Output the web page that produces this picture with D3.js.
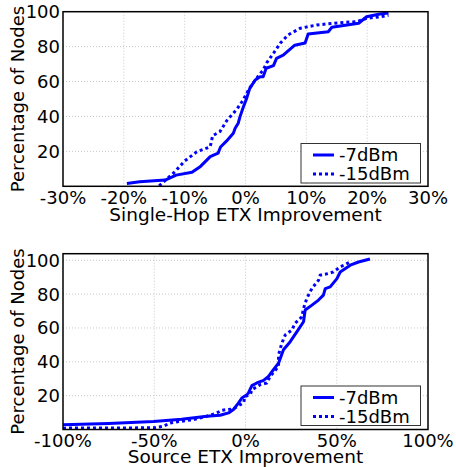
<!DOCTYPE html>
<html><head><meta charset="utf-8">
<script src="https://cdn.jsdelivr.net/npm/d3@7"></script>
<style>body{margin:0;background:#fff}svg{display:block}</style>
</head><body>
<svg id="c" width="456" height="467"></svg>
<script>
// ---- data ----
const seriesNames = ["-7dBm", "-15dBm"];
const yTicks = [20, 40, 60, 80, 100];
const topXTicks = [-30, -20, -10, 0, 10, 20, 30];
const botXTicks = [-100, -50, 0, 50, 100];
const topXLabel = "Single-Hop ETX Improvement";
const botXLabel = "Source ETX Improvement";
const yLabel = "Percentage of Nodes";

// Top panel: [improvement %, percentage of nodes]
const top7 = [[-19.5,1.6],[-17.4,2.6],[-13.2,3.6],[-11.4,6.4],[-8.8,8.0],[-7.4,11.4],[-5.8,17.0],[-4.5,19.0],[-4.1,22.5],[-3.1,26.0],[-2.0,30.4],[-1.7,33.2],[-1.2,36.1],[-0.9,39.9],[-0.4,45.0],[0.2,50.5],[0.7,56.1],[1.6,60.9],[2.4,62.8],[2.9,62.8],[3.4,67.6],[4.6,69.1],[5.1,73.3],[6.2,75.1],[8.1,80.8],[9.8,82.1],[10.3,87.2],[13.6,88.5],[14.2,91.1],[18.6,93.4],[19.9,97.1],[22.1,98.7],[23.5,99.3]];
const top15 = [[-14.2,0.3],[-11.6,8.4],[-10.0,14.5],[-8.0,19.8],[-6.7,21.4],[-5.8,22.7],[-5.4,29.0],[-4.2,31.3],[-3.1,37.5],[-2.5,39.9],[-1.4,44.2],[-0.4,49.4],[0.5,55.2],[1.6,60.9],[2.9,66.6],[3.5,70.8],[4.6,76.2],[5.7,81.9],[7.0,86.7],[9.0,90.5],[11.7,92.4],[15.5,93.7],[18.3,94.3],[19.9,96.2],[22.1,97.1],[23.5,97.9]];
// Bottom panel
const bot7 = [[-100,2.8],[-75,3.6],[-50.4,4.7],[-35,6.0],[-21.2,7.8],[-13.9,8.4],[-9.3,9.8],[-6.6,11.8],[-3.8,15.7],[-2.0,18.6],[0.8,20.6],[1.6,21.6],[3.5,25.9],[6.2,27.5],[9.9,29.0],[12.6,31.4],[15.3,35.3],[18.1,39.2],[20.8,47.1],[24.5,51.9],[28.2,57.8],[31.8,63.7],[32.7,70.6],[36.4,73.5],[40.0,76.5],[42.7,79.4],[43.7,83.3],[46.4,84.3],[50.1,89.2],[51.9,93.1],[57.4,97.1],[61.9,99.0],[68.2,100.8]];
const bot15 = [[-100,0.8],[-50.4,1.0],[-44.9,2.0],[-41.3,3.9],[-28.5,5.9],[-21.2,7.8],[-15.7,9.8],[-12.9,11.4],[-6.6,12.2],[-2.9,14.7],[-1.1,15.7],[-0.2,19.6],[2.6,20.6],[3.5,23.5],[8.1,26.5],[11.7,27.5],[13.5,31.4],[18.1,37.3],[18.1,44.1],[19.9,51.0],[21.8,55.9],[25.4,58.8],[27.2,62.8],[30.9,66.6],[31.8,71.6],[33.6,77.5],[36.4,83.4],[40.0,88.2],[40.9,91.2],[45.5,92.2],[48.2,93.1],[51.9,96.1],[57.4,99.0]];

// ---- drawing ----
const svg = d3.select("#c");
const font = "DejaVu Sans, sans-serif";
const blue = "#0000ff";

function panel(cfg) {
  const x = d3.scaleLinear().domain(cfg.xDomain).range([63, 428]);
  const y = d3.scaleLinear().domain(cfg.yDomain).range(cfg.yRange);
  const y0 = y.range()[0];
  const g = svg.append("g");
  const topPx = y(cfg.yTop);
  // grid
  g.selectAll(".vg").data(cfg.xTicks.slice(1, -1)).join("line")
    .attr("x1", d => x(d)).attr("x2", d => x(d)).attr("y1", topPx).attr("y2", y0)
    .attr("stroke", "#c8c8c8").attr("stroke-width", 1).attr("stroke-dasharray", "1,2");
  g.selectAll(".hg").data(yTicks.filter(d => y(d) > topPx + 1)).join("line")
    .attr("x1", 63).attr("x2", 428).attr("y1", d => y(d)).attr("y2", d => y(d))
    .attr("stroke", "#c8c8c8").attr("stroke-width", 1).attr("stroke-dasharray", "1,2");
  // lines
  const line = d3.line().x(d => x(d[0])).y(d => y(d[1]));
  g.append("path").datum(cfg.s7).attr("d", line).attr("fill", "none")
    .attr("stroke", blue).attr("stroke-width", 3).attr("stroke-linejoin", "round");
  g.append("path").datum(cfg.s15).attr("d", line).attr("fill", "none")
    .attr("stroke", blue).attr("stroke-width", 3).attr("stroke-dasharray", "3,3");
  // frame
  g.append("rect").attr("x", 63).attr("y", topPx).attr("width", 365).attr("height", y0 - topPx)
    .attr("fill", "none").attr("stroke", "#000").attr("stroke-width", 1.5);
  // y ticks labels
  g.selectAll(".yt").data(yTicks).join("text")
    .attr("x", 60).attr("y", d => y(d)).attr("dy", "0.36em")
    .attr("text-anchor", "end").attr("font-family", font).attr("font-size", 18)
    .text(d => d);
  // x tick labels
  g.selectAll(".xt").data(cfg.xTicks).join("text")
    .attr("x", d => x(d)).attr("y", cfg.xTickY)
    .attr("text-anchor", "middle").attr("font-family", font).attr("font-size", 18)
    .text(d => (d < 0 ? "-" + Math.abs(d) : d) + "%");
  // x label
  g.append("text").attr("x", 245.5).attr("y", cfg.xLabelY).attr("text-anchor", "middle")
    .attr("font-family", font).attr("font-size", 18.5).text(cfg.xLabel);
  // y label
  const cy = (topPx + y0) / 2;
  g.append("text").attr("transform", `translate(24,${cy}) rotate(-90)`)
    .attr("text-anchor", "middle").attr("font-family", font).attr("font-size", 18).text(yLabel);
  // legend
  const lg = g.append("g");
  lg.append("rect").attr("x", 301).attr("y", cfg.legY).attr("width", 119.5).attr("height", 39.5)
    .attr("fill", "#fff").attr("stroke", "#333").attr("stroke-width", 1);
  seriesNames.forEach((n, i) => {
    const ry = cfg.legY + 11.5 + i * 19;
    lg.append("line").attr("x1", 313).attr("x2", 334).attr("y1", ry).attr("y2", ry)
      .attr("stroke", blue).attr("stroke-width", 3)
      .attr("stroke-dasharray", i === 1 ? "3,3" : null);
    lg.append("text").attr("x", 339).attr("y", ry).attr("dy", "0.36em")
      .attr("font-family", font).attr("font-size", 18).text(n);
  });
}

panel({xDomain: [-30, 30], yDomain: [0, 100], yRange: [186.3, 11.7], yTop: 100,
  xTicks: topXTicks, s7: top7, s15: top15, xTickY: 203.5, xLabelY: 221, xLabel: topXLabel, legY: 143.5});
panel({xDomain: [-100, 100], yDomain: [0, 100], yRange: [429.5, 260.3], yTop: 103.9,
  xTicks: botXTicks, s7: bot7, s15: bot15, xTickY: 446.7, xLabelY: 463.3, xLabel: botXLabel, legY: 386});
</script>
</body></html>
